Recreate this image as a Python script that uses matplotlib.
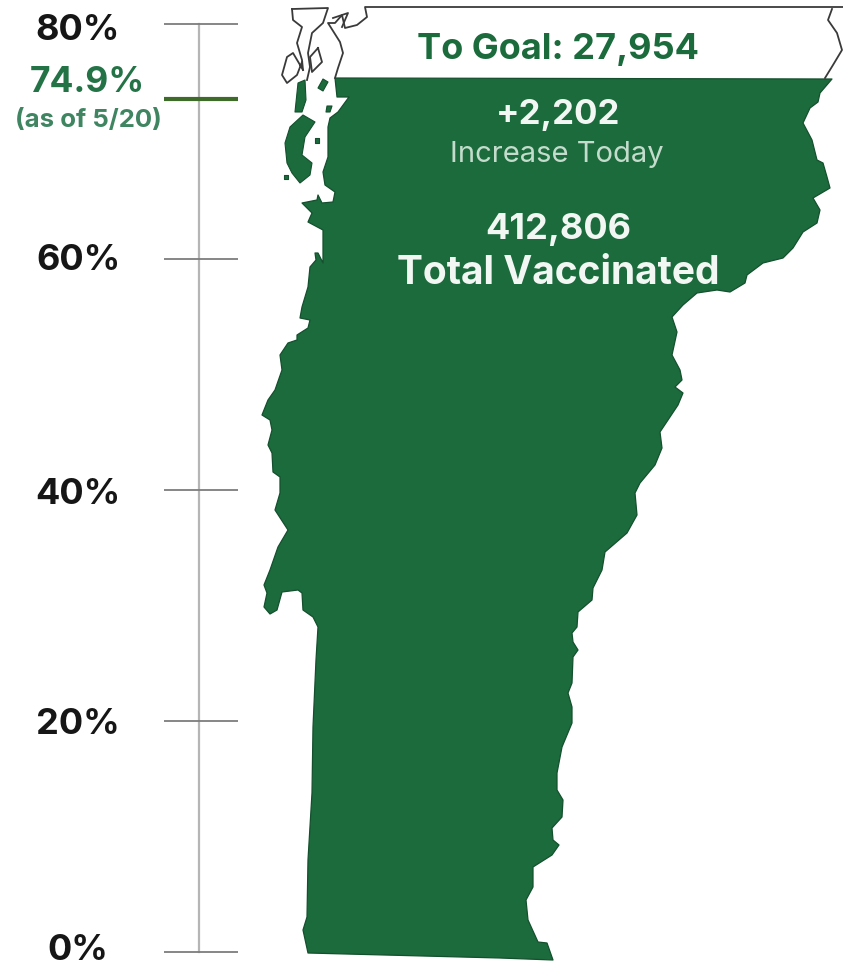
#!/usr/bin/env python
"""Vermont vaccination progress: percent scale next to a filled state shape."""
import numpy as np
import matplotlib
matplotlib.use("Agg")
import matplotlib.pyplot as plt
from matplotlib.patches import Polygon

plt.rcParams["font.family"] = ["Inter", "DejaVu Sans"]

# scale values and where the reference puts them (image pixels)
tick_pct = [0, 20, 40, 60, 80]
tick_px = [952, 721, 490, 259, 24]
tick_labels = ["0%", "20%", "40%", "60%", "80%"]
label_px = [948, 722, 491, 258, 28]
# the marker in the picture sits lower than 74.9 on the drawn scale
marker_pos_pct = 73.6

goal_text = "To Goal: 27,954"
increase_text = "+2,202"
increase_label = "Increase Today"
total_text = "412,806"
total_label = "Total Vaccinated"
current_text = "74.9%"
current_note = "(as of 5/20)"

# state shape, image pixels
mainland = [
    (335, 78), (832, 79), (820, 93), (818, 102), (810, 108), (803, 123), (812, 140),
    (817, 160), (823, 163), (827, 177), (830, 188), (813, 198), (820, 210), (817, 223),
    (803, 232), (793, 248), (783, 258), (763, 263), (747, 275), (745, 283), (730, 292),
    (717, 290), (697, 293), (683, 305), (672, 317), (677, 332), (672, 355), (680, 370),
    (682, 380), (675, 387), (683, 393), (678, 405), (660, 432), (662, 448), (655, 465),
    (640, 483), (635, 493), (637, 515), (627, 533), (605, 552), (602, 570), (593, 588),
    (592, 600), (578, 612), (577, 627), (572, 633), (573, 642), (578, 650), (573, 657),
    (572, 683), (568, 693), (572, 707), (572, 723), (562, 747), (557, 773), (557, 790),
    (563, 800), (562, 817), (552, 828), (553, 840), (559, 845), (552, 855), (533, 867),
    (533, 887), (526, 900), (528, 920), (538, 942), (547, 943), (553, 960), (500, 958),
    (308, 953), (303, 930), (307, 917), (308, 860), (312, 793), (313, 727), (316, 660),
    (318, 627), (313, 617), (303, 610), (302, 593), (298, 590), (282, 592), (277, 610),
    (270, 614), (264, 607), (267, 593), (264, 585), (270, 570), (278, 547), (288, 530),
    (275, 510), (280, 493), (280, 477), (273, 472), (272, 453), (268, 445), (272, 430),
    (270, 420), (262, 415), (268, 400), (275, 390), (282, 370), (280, 355), (288, 343),
    (297, 340), (297, 335), (308, 328), (310, 320), (300, 318), (302, 307), (308, 287),
    (310, 267), (316, 260), (315, 253), (318, 253), (323, 263), (323, 243), (323, 230),
    (308, 222), (312, 213), (302, 203), (317, 200), (318, 195), (322, 203), (333, 202),
    (335, 192), (325, 185), (323, 172), (328, 157), (328, 127), (330, 118), (338, 112),
    (349, 97), (337, 97),
]
islands = [
    [(290, 127), (303, 115), (315, 122), (305, 137), (302, 155), (312, 163), (310, 175),
     (300, 183), (292, 173), (287, 163), (285, 143)],
    [(298, 83), (305, 80), (306, 100), (302, 112), (295, 112)],
    [(318, 88), (323, 79), (328, 82), (323, 91)],
    [(327, 106), (332, 106), (330, 112), (326, 112)],
    [(315, 138), (319, 138), (319, 143), (315, 143)],
    [(284, 175), (288, 175), (288, 179), (284, 179)],
]
outlines = [
    [(843, 7), (365, 7), (367, 17), (357, 25), (345, 28), (342, 15), (335, 23), (328, 23),
     (340, 42), (343, 53), (338, 68), (335, 78)],
    [(292, 9), (328, 8), (323, 23), (312, 33), (308, 53), (310, 67), (307, 80)],
    [(292, 9), (293, 20), (302, 27), (297, 43), (302, 60), (303, 70)],
    [(303, 70), (293, 53), (287, 57), (282, 75), (287, 83), (297, 75), (302, 62)],
    [(318, 48), (322, 62), (312, 72), (310, 57), (318, 48)],
    [(333, 18), (348, 13), (342, 27)],
    [(832, 9), (828, 20), (837, 33), (842, 50), (833, 65), (825, 78)],
]

GREEN = "#1b6b3d"
EDGE = "#14502d"

fig = plt.figure(figsize=(8.43, 9.67), dpi=100)
ax = fig.add_axes([0, 0, 1, 1])
ax.set_xlim(0, 843)
ax.set_ylim(967, 0)
ax.axis("off")

# state
ax.add_patch(Polygon(mainland, closed=True, fc=GREEN, ec=EDGE, lw=0.9, joinstyle="round"))
for isl in islands:
    ax.add_patch(Polygon(isl, closed=True, fc=GREEN, ec=EDGE, lw=0.8, joinstyle="round"))
for line in outlines:
    xs, ys = zip(*line)
    ax.plot(xs, ys, color="#3a3a3a", lw=1.3, solid_joinstyle="round")

# percent scale
y_ticks = np.interp(tick_pct, tick_pct, tick_px)
ax.plot([199, 199], [y_ticks[-1], y_ticks[0]], color="#b5b5b5", lw=1.6)
ax.hlines(y_ticks, 164, 238, color="#7d7d7d", lw=1.3)
ax.hlines(np.interp(marker_pos_pct, tick_pct, tick_px), 164, 238, color="#3f6b2a", lw=3)

for lab, y in zip(tick_labels, label_px):
    ax.text(78, y + 3, lab, ha="center", va="center", fontsize=26, fontweight="bold",
            color="#161616")

# current value
ax.text(87, 83, current_text, ha="center", va="center", fontsize=25.5, fontweight="bold",
        color="#237347")
ax.text(88, 120, current_note, ha="center", va="center", fontsize=18.5, fontweight="bold",
        color="#3f8561")

# text on the shape
ax.text(558, 49, goal_text, ha="center", va="center", fontsize=26, fontweight="bold",
        color=GREEN)
ax.text(558, 115, increase_text, ha="center", va="center", fontsize=25, fontweight="bold",
        color="#f2f7f3")
ax.text(557, 154, increase_label, ha="center", va="center", fontsize=21, color="#c4dccb")
ax.text(558, 230, total_text, ha="center", va="center", fontsize=26, fontweight="bold",
        color="#f2f7f3")
ax.text(558, 274, total_label, ha="center", va="center", fontsize=28, fontweight="bold",
        color="#f2f7f3")

fig.savefig("out.png", dpi=100)
